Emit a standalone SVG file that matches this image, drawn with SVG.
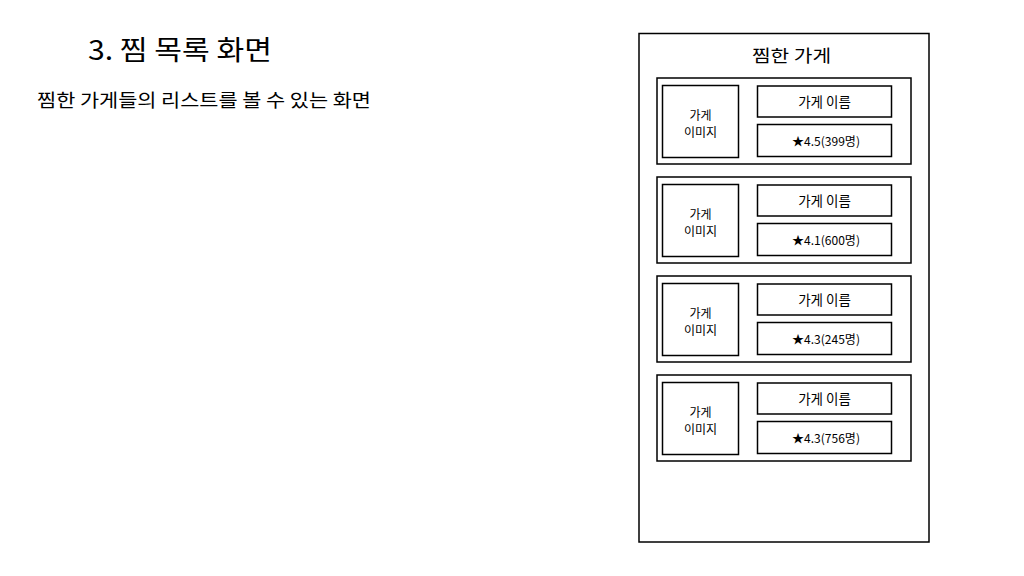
<svg xmlns="http://www.w3.org/2000/svg" width="1024" height="576" viewBox="0 0 1024 576">
<style>
text{font-family:"Noto Sans CJK KR","Noto Sans",sans-serif;fill:#000}
.b{fill:#fff;stroke:#000;stroke-width:1.5}
.c{text-anchor:middle}
.s{font-size:13.5px}
.i{font-size:12px}
.r{font-size:12px}
</style>
<rect width="1024" height="576" fill="#fff"/>
<text x="88" y="60" font-size="27" textLength="184" lengthAdjust="spacingAndGlyphs">3. 찜 목록 화면</text>
<text x="37" y="107" font-size="18.5" textLength="334" lengthAdjust="spacingAndGlyphs">찜한 가게들의 리스트를 볼 수 있는 화면</text>
<g id="frame">
<rect class="b" x="639" y="33.5" width="290" height="508.5"/>
<text x="752" y="62" font-size="17.5" textLength="79" lengthAdjust="spacingAndGlyphs">찜한 가게</text>
</g>
<g id="card1">
<rect class="b" x="657" y="78" width="254" height="86"/>
<rect class="b" x="662.5" y="85.5" width="76" height="72"/>
<text class="c i" x="700.5" y="119.5">가게<tspan x="700.5" dy="17.6">이미지</tspan></text>
<rect class="b" x="757.5" y="86" width="134" height="31"/>
<text class="c s" x="824.5" y="107">가게 이름</text>
<rect class="b" x="757.5" y="124.5" width="134" height="32"/>
<text class="r" x="792" y="146" textLength="68" lengthAdjust="spacingAndGlyphs">★4.5(399명)</text>
</g>
<g id="card2">
<rect class="b" x="657" y="177" width="254" height="86"/>
<rect class="b" x="662.5" y="184.5" width="76" height="72"/>
<text class="c i" x="700.5" y="218.5">가게<tspan x="700.5" dy="17.6">이미지</tspan></text>
<rect class="b" x="757.5" y="185" width="134" height="31"/>
<text class="c s" x="824.5" y="206">가게 이름</text>
<rect class="b" x="757.5" y="223.5" width="134" height="32"/>
<text class="r" x="792" y="245" textLength="68" lengthAdjust="spacingAndGlyphs">★4.1(600명)</text>
</g>
<g id="card3">
<rect class="b" x="657" y="276" width="254" height="86"/>
<rect class="b" x="662.5" y="283.5" width="76" height="72"/>
<text class="c i" x="700.5" y="317.5">가게<tspan x="700.5" dy="17.6">이미지</tspan></text>
<rect class="b" x="757.5" y="284" width="134" height="31"/>
<text class="c s" x="824.5" y="305">가게 이름</text>
<rect class="b" x="757.5" y="322.5" width="134" height="32"/>
<text class="r" x="792" y="344" textLength="68" lengthAdjust="spacingAndGlyphs">★4.3(245명)</text>
</g>
<g id="card4">
<rect class="b" x="657" y="375" width="254" height="86"/>
<rect class="b" x="662.5" y="382.5" width="76" height="72"/>
<text class="c i" x="700.5" y="416.5">가게<tspan x="700.5" dy="17.6">이미지</tspan></text>
<rect class="b" x="757.5" y="383" width="134" height="31"/>
<text class="c s" x="824.5" y="404">가게 이름</text>
<rect class="b" x="757.5" y="421.5" width="134" height="32"/>
<text class="r" x="792" y="443" textLength="68" lengthAdjust="spacingAndGlyphs">★4.3(756명)</text>
</g>
<g id="connectors"></g>
</svg>
